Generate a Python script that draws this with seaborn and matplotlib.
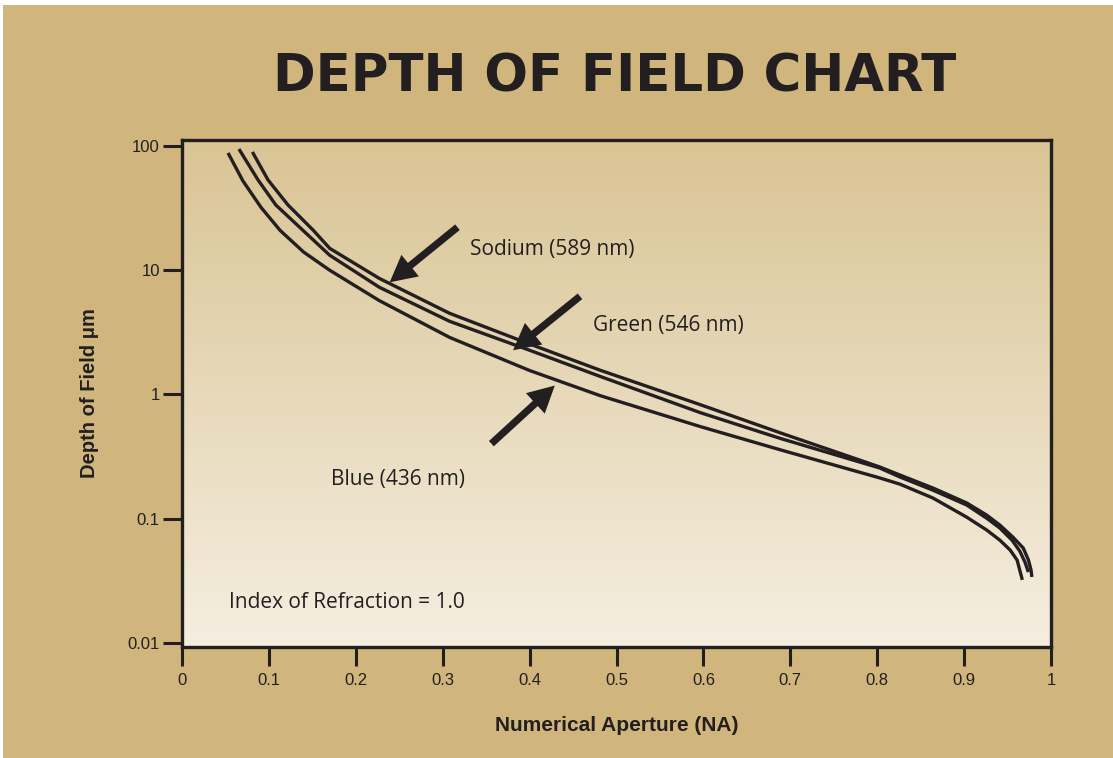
import numpy as np
import pandas as pd
import matplotlib
matplotlib.use("Agg")
import matplotlib.pyplot as plt
from matplotlib.patches import Rectangle
from matplotlib.ticker import NullLocator
import seaborn as sns

# Depth of field (um) versus numerical aperture, index of refraction 1.0
na_sodium = [0.081, 0.099, 0.122, 0.151, 0.170, 0.227, 0.308, 0.400, 0.481, 0.596,
             0.689, 0.803, 0.826, 0.864, 0.903, 0.926, 0.941, 0.956, 0.968, 0.974,
             0.977, 0.978]
dof_sodium = [89.5, 53.3, 33.5, 21.0, 15.0, 8.6, 4.50, 2.55, 1.57, 0.83,
              0.490, 0.261, 0.225, 0.177, 0.134, 0.107, 0.0891, 0.0713, 0.0582, 0.0466,
              0.0387, 0.0340]

na_green = [0.0655, 0.0875, 0.108, 0.139, 0.170, 0.227, 0.308, 0.400, 0.481, 0.596,
            0.689, 0.803, 0.826, 0.864, 0.903, 0.926, 0.941, 0.955, 0.964, 0.970,
            0.974]
dof_green = [94.6, 53.3, 33.5, 21.0, 13.2, 7.3, 3.88, 2.27, 1.40, 0.716,
             0.442, 0.256, 0.217, 0.170, 0.129, 0.101, 0.0843, 0.0674, 0.0550, 0.0449,
             0.0372]

na_blue = [0.053, 0.070, 0.091, 0.113, 0.140, 0.170, 0.227, 0.308, 0.400, 0.481,
           0.596, 0.689, 0.803, 0.826, 0.864, 0.903, 0.926, 0.941, 0.953, 0.961,
           0.964, 0.967]
dof_blue = [87.9, 52.5, 32.0, 20.9, 14.0, 10.0, 5.7, 2.88, 1.56, 0.98,
            0.553, 0.358, 0.213, 0.190, 0.147, 0.103, 0.0811, 0.0674, 0.0560, 0.0465,
            0.0387, 0.0322]

series_names = ["Sodium (589 nm)", "Green (546 nm)", "Blue (436 nm)"]

x_ticks = [0, 0.1, 0.2, 0.3, 0.4, 0.5, 0.6, 0.7, 0.8, 0.9, 1.0]
x_tick_labels = ["0", "0.1", "0.2", "0.3", "0.4", "0.5", "0.6", "0.7", "0.8", "0.9", "1"]
y_ticks = [0.01, 0.1, 1, 10, 100]
y_tick_labels = ["0.01", "0.1", "1", "10", "100"]

df = pd.concat([
    pd.DataFrame({"na": na_sodium, "dof": dof_sodium, "source": series_names[0]}),
    pd.DataFrame({"na": na_green, "dof": dof_green, "source": series_names[1]}),
    pd.DataFrame({"na": na_blue, "dof": dof_blue, "source": series_names[2]}),
], ignore_index=True)

INK = "#231F20"
TAN = "#D0B67C"
GRAD_TOP = np.array([217, 196, 148]) / 255
GRAD_BOTTOM = np.array([245, 238, 224]) / 255

sns.set_theme(style="ticks")
plt.rcParams["font.family"] = ["Liberation Sans", "DejaVu Sans"]

W, H = 1113, 758
fig = plt.figure(figsize=(W / 100, H / 100), dpi=100, facecolor="white")
fig.patches.append(Rectangle((3 / W, 0), 1, 1 - 5 / H, transform=fig.transFigure,
                             facecolor=TAN, edgecolor="none", zorder=-10))

pos = [182 / W, 1 - 647 / H, (1051 - 182) / W, (647 - 140) / H]

# vertical cream gradient behind the plotting area
bg = fig.add_axes(pos, zorder=-1)
t = np.linspace(0, 1, 256)[:, None, None]
grad = GRAD_TOP * (1 - t) + GRAD_BOTTOM * t
bg.imshow(grad, aspect="auto", extent=[0, 1, 0, 1], interpolation="bilinear")
bg.axis("off")

ax = fig.add_axes(pos)
ax.set_facecolor("none")
sns.lineplot(data=df, x="na", y="dof", hue="source", hue_order=series_names,
             palette={n: INK for n in series_names}, estimator=None, sort=False,
             linewidth=2.4, legend=False, ax=ax)
for line in ax.get_lines():
    line.set_solid_joinstyle("round")
    line.set_solid_capstyle("butt")

ax.set_yscale("log")
ax.set_xlim(0, 1)
ax.set_ylim(10 ** (-2 - 4 / 124.25), 10 ** (2 + 6 / 124.25))
ax.set_xticks(x_ticks)
ax.set_xticklabels(x_tick_labels)
ax.set_yticks(y_ticks)
ax.set_yticklabels(y_tick_labels)
ax.yaxis.set_minor_locator(NullLocator())
ax.xaxis.set_minor_locator(NullLocator())
ax.tick_params(axis="both", direction="out", length=14, width=2.2, color=INK,
               labelcolor=INK, labelsize=12)
ax.tick_params(axis="x", pad=5)
ax.tick_params(axis="y", pad=2)
for sp in ax.spines.values():
    sp.set_visible(True)
    sp.set_color(INK)
    sp.set_linewidth(2.4)

ax.set_xlabel("Numerical Aperture (NA)", fontsize=15, fontweight="bold", color=INK)
ax.set_ylabel("Depth of Field \u03bcm", fontsize=14.5, fontweight="bold", color=INK)
ax.xaxis.set_label_coords(0.5006, -0.1558)
ax.xaxis.label.set_va("center")
ax.yaxis.set_label_coords(-0.106, 0.5)
ax.yaxis.label.set_va("center")

# arrows pointing at each wavelength curve: (tail, tip)
arrows = [((0.317, 22.2), (0.239, 8.0)),
          ((0.458, 6.17), (0.381, 2.27)),
          ((0.356, 0.402), (0.429, 1.18))]
for tail, tip in arrows:
    ax.annotate("", xy=tip, xytext=tail,
                arrowprops=dict(arrowstyle="simple,head_length=0.95,head_width=1.0,tail_width=0.26",
                                mutation_scale=20, facecolor=INK, edgecolor="none",
                                shrinkA=0, shrinkB=0))

label_font = dict(family=["Open Sans", "DejaVu Sans"], fontsize=15, color=INK,
                  ha="left", va="center")
ax.text(0.331, 14.8, series_names[0], **label_font)
ax.text(0.473, 3.6, series_names[1], **label_font)
ax.text(0.172, 0.206, series_names[2], **label_font)
ax.text(0.054, 0.021, "Index of Refraction = 1.0", **label_font)

fig.text(615 / W, 1 - 77 / H, "DEPTH OF FIELD CHART", ha="center", va="center",
         fontsize=37, fontweight="heavy", family="DejaVu Sans", color=INK)

fig.savefig("out.png", dpi=100, facecolor=fig.get_facecolor())
